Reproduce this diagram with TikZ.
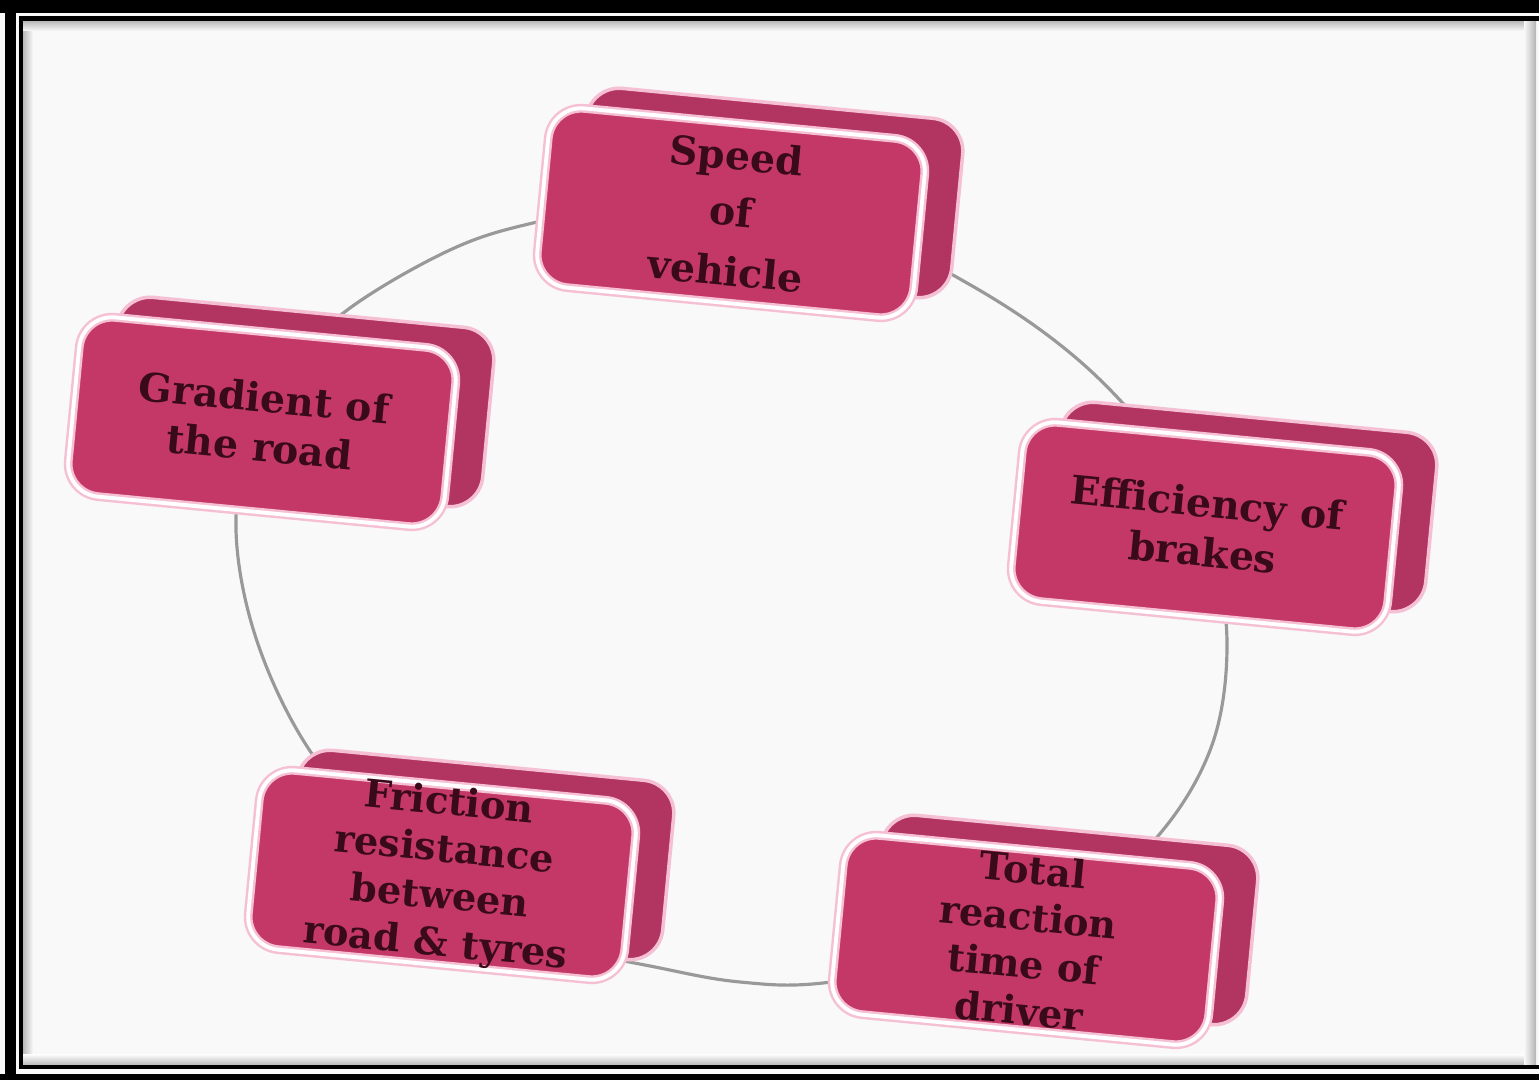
\documentclass[tikz,border=0pt]{standalone}
\usepackage{fontspec}
\newfontfamily\boxfont{DejaVu Serif}
\usetikzlibrary{positioning}
\definecolor{facepink}{RGB}{196,56,104}
\definecolor{backpink}{RGB}{178,52,97}
\definecolor{glowpink}{RGB}{246,192,212}
\definecolor{inkred}{RGB}{56,10,26}
\definecolor{paper}{RGB}{249,249,249}

\begin{document}
\begin{tikzpicture}[x=0.01cm,y=-0.01cm,
  front/.style={draw=glowpink,double=white,double distance=1.1pt,line width=0.7pt,
    fill=facepink,rounded corners=0.33cm,minimum width=3.78cm,minimum height=1.8cm,
    rotate=-5.5,align=center,inner sep=0pt,text=inkred,
    font=\boxfont\bfseries\fontsize{11.2}{14}\selectfont},
  back/.style={draw=glowpink,line width=1pt,fill=backpink,rounded corners=0.33cm,
    minimum width=3.78cm,minimum height=1.8cm,rotate=-5.5},
  tight/.style={font=\boxfont\bfseries\fontsize{10.9}{13.4}\selectfont},
  ring/.style={draw=gray!80,line width=0.9pt}]
  % page and frame
  \fill[paper] (0,0) rectangle (1539,1080);
  \useasboundingbox (0,0) rectangle (1539,1080);
  \shade[left color=gray!55,right color=paper] (23,21) rectangle (33,1065);
  \shade[top color=gray!55,bottom color=paper] (23,21) rectangle (1534,31);
  \shade[bottom color=gray!55,top color=paper] (23,1055) rectangle (1534,1065);
  \shade[right color=gray!60,left color=paper] (1524,21) rectangle (1536,1065);
  \fill[black] (0,0) rectangle (1539,13);
  \fill[black] (5,0) rectangle (16,1080);
  \fill[black] (0,1074) rectangle (1539,1080);
  \fill[black] (19,16) rectangle (1539,21);
  \fill[black] (19,16) rectangle (23,1069);
  \fill[black] (19,1065) rectangle (1539,1069);

  % the ring behind the boxes
  \draw[ring] plot[smooth cycle,tension=0.6] coordinates {(533,223) (640,205)
    (760,208) (870,235) (967,283) (1050,337) (1117,397) (1180,475) (1215,560)
    (1227,650) (1212,745) (1163,830) (1085,900) (960,958) (823,983) (740,982)
    (660,968) (560,945) (460,900) (375,830) (303,740) (255,635) (236,530)
    (250,440) (290,367) (350,308) (450,250)};

  % centres of the five boxes
  \coordinate (c-speed)    at (731,213);
  \coordinate (c-brakes)   at (1205,527);
  \coordinate (c-reaction) at (1026,940);
  \coordinate (c-friction) at (442,875);
  \coordinate (c-gradient) at (262,422);

  % boxes
  \node[back] at ([shift={(38,-20)}]c-speed) {};
  \node[front] (speed) at (c-speed) {Speed\\[2pt]of\\[3pt]vehicle};

  \node[back] at ([shift={(38,-20)}]c-brakes) {};
  \node[front] (brakes) at (c-brakes) {Efficiency of\\brakes};

  \node[back] at ([shift={(38,-20)}]c-reaction) {};
  \node[front,tight] (reaction) at (c-reaction) {Total\\reaction\\time of\\driver};

  \node[back] at ([shift={(38,-20)}]c-friction) {};
  \node[front,tight] (friction) at (c-friction) {Friction\\resistance\\between\\road \& tyres};

  \node[back] at ([shift={(38,-20)}]c-gradient) {};
  \node[front] (gradient) at (c-gradient) {Gradient of\\the road};
\end{tikzpicture}
\end{document}
